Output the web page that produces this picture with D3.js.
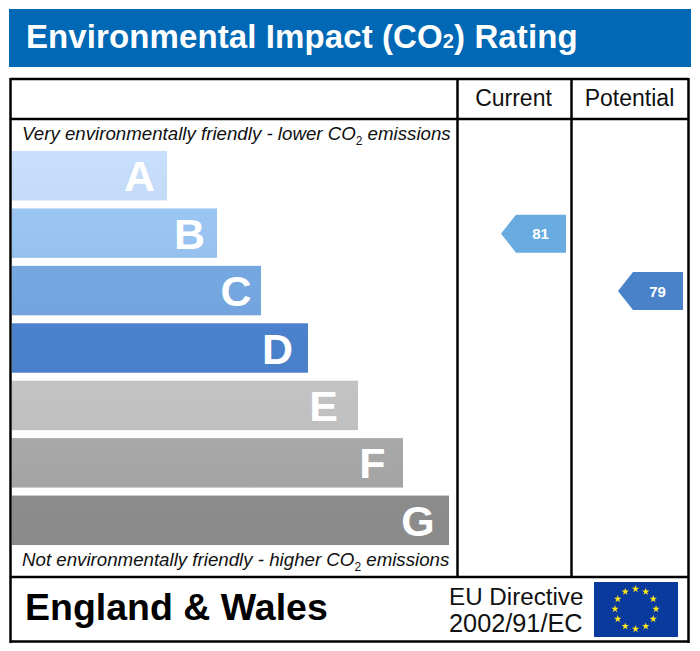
<!DOCTYPE html>
<html>
<head>
<meta charset="utf-8">
<script src="https://cdnjs.cloudflare.com/ajax/libs/d3/7.8.5/d3.min.js"></script>
<style>
html, body { margin: 0; padding: 0; background: #fff; }
svg { display: block; }
text { font-family: "Liberation Sans", Arial, sans-serif; }
</style>
</head>
<body>
<div id="chart"></div>
<script>
// ---- data
const bands = ['A', 'B', 'C', 'D', 'E', 'F', 'G'];
const barLengths = [155, 205, 249, 296, 346, 391, 437];
const bandColors = ['#c6ddfa', '#99c3f0', '#74a6df', '#4b80cb', '#c1c1c1', '#a6a6a6', '#8b8b8b'];
const columns = ['Current', 'Potential'];
const ratings = [81, 79];
const ratingBands = ['B', 'C'];
const ratingColors = ['#68abe0', '#4a82ca'];

const width = 700, height = 651;

const svg = d3.select('#chart').append('svg')
  .attr('width', width)
  .attr('height', height);

// ---- title
svg.append('rect')
  .attr('x', 9).attr('y', 9)
  .attr('width', 682).attr('height', 58)
  .attr('fill', '#0068b4');

const title = svg.append('text')
  .attr('x', 26).attr('y', 48)
  .attr('fill', '#fff')
  .attr('font-size', 33)
  .attr('font-weight', 'bold')
  .attr('letter-spacing', 0.1);
title.append('tspan').text('Environmental Impact (CO');
title.append('tspan').attr('font-size', 20).text('2');
title.append('tspan').text(') Rating');

// ---- scales
const x = d3.scaleLinear().domain([0, 437]).range([12, 449]);
const y = d3.scaleBand().domain(bands).range([151, 545]).paddingInner(0.139);
const colX = d3.scaleBand().domain(columns).range([457.5, 685.5]);

// ---- bars
const defs = svg.append('defs');
bandColors.forEach((c, i) => {
  const g = defs.append('linearGradient')
    .attr('id', 'band-' + bands[i])
    .attr('x1', 0).attr('x2', 0).attr('y1', 0).attr('y2', 1);
  g.append('stop').attr('offset', 0).attr('stop-color', d3.color(c).brighter(0.03));
  g.append('stop').attr('offset', 1).attr('stop-color', d3.color(c).darker(0.03));
});

// how far each letter sits back from the end of its bar
const letterInset = [27.5, 27.5, 25, 30.5, 34.5, 30.5, 31];

const bar = svg.selectAll('g.band')
  .data(bands)
  .enter()
  .append('g')
  .attr('class', 'band');

bar.append('rect')
  .attr('x', x(0))
  .attr('y', d => y(d))
  .attr('width', (d, i) => x(barLengths[i]) - x(0))
  .attr('height', y.bandwidth())
  .attr('fill', d => `url(#band-${d})`);

bar.append('text')
  .attr('x', (d, i) => x(barLengths[i]) - letterInset[i])
  .attr('y', d => y(d) + y.bandwidth() / 2 + 15.5)
  .attr('text-anchor', 'middle')
  .attr('fill', '#fff')
  .attr('font-size', 43)
  .attr('font-weight', 'bold')
  .text(d => d);

// ---- rating arrows
ratings.forEach((r, i) => {
  const right = i == 0 ? 566 : 683;
  const cy = y(ratingBands[i]) + y.bandwidth() / 2 + 0.5;
  const h = 19;
  svg.append('polygon')
    .attr('points', [[right, cy - h], [right - 50, cy - h], [right - 65, cy], [right - 50, cy + h], [right, cy + h]].join(' '))
    .attr('fill', ratingColors[i]);
  svg.append('text')
    .attr('x', right - 25.5)
    .attr('y', cy + 5.5)
    .attr('text-anchor', 'middle')
    .attr('fill', '#fff')
    .attr('font-size', 15)
    .attr('font-weight', 'bold')
    .text(r);
});

// ---- frame
const lines = [
  [10.5, 79, 688.5, 79],
  [10.5, 119, 688.5, 119],
  [10.5, 577, 688.5, 577],
  [10.5, 641.5, 688.5, 641.5],
  [10.5, 78, 10.5, 643],
  [688.5, 78, 688.5, 643],
  [457.5, 79, 457.5, 576],
  [571.5, 79, 571.5, 576]
];
svg.selectAll('line.frame')
  .data(lines)
  .enter()
  .append('line')
  .attr('class', 'frame')
  .attr('x1', d => d[0]).attr('y1', d => d[1])
  .attr('x2', d => d[2]).attr('y2', d => d[3])
  .attr('stroke', '#000')
  .attr('stroke-width', 2.5);

// ---- column headers
svg.selectAll('text.col')
  .data(columns)
  .enter()
  .append('text')
  .attr('class', 'col')
  .attr('x', d => colX(d) + colX.bandwidth() / 2 + (d == 'Current' ? -1 : 1))
  .attr('y', 106)
  .attr('text-anchor', 'middle')
  .attr('font-size', 23)
  .attr('fill', '#111')
  .text(d => d);

// ---- top and bottom captions
const caption = (yPos, before) => {
  const t = svg.append('text')
    .attr('x', 22).attr('y', yPos)
    .attr('font-size', 18.7)
    .attr('font-style', 'italic')
    .attr('fill', '#111');
  t.append('tspan').text(before + ' CO');
  t.append('tspan').attr('font-size', 12).attr('dy', 5).attr('font-style', 'normal').text('2');
  t.append('tspan').attr('dy', -5).text(' emissions');
};
caption(140, 'Very environmentally friendly - lower');
caption(566, 'Not environmentally friendly - higher');

// ---- footer
svg.append('text')
  .attr('x', 25).attr('y', 620)
  .attr('font-size', 37.5)
  .attr('font-weight', 'bold')
  .attr('fill', '#000')
  .text('England & Wales');

svg.selectAll('text.directive')
  .data(['EU Directive', '2002/91/EC'])
  .enter()
  .append('text')
  .attr('class', 'directive')
  .attr('x', 449)
  .attr('y', (d, i) => 605 + i * 27)
  .attr('font-size', (d, i) => i == 0 ? 24.2 : 25.3)
  .attr('fill', '#111')
  .text(d => d);

// ---- EU flag
svg.append('rect')
  .attr('x', 594).attr('y', 582)
  .attr('width', 84).attr('height', 55)
  .attr('fill', '#0b3a9e');

const star = d3.symbol().type(d3.symbolStar).size(17);
svg.selectAll('path.star')
  .data(d3.range(12))
  .enter()
  .append('path')
  .attr('class', 'star')
  .attr('d', star)
  .attr('fill', '#ffe81a')
  .attr('transform', d => {
    const a = d / 12 * 2 * Math.PI;
    return `translate(${635.5 + 20.5 * Math.sin(a)},${609 - 20 * Math.cos(a)})`;
  });
</script>
</body>
</html>
